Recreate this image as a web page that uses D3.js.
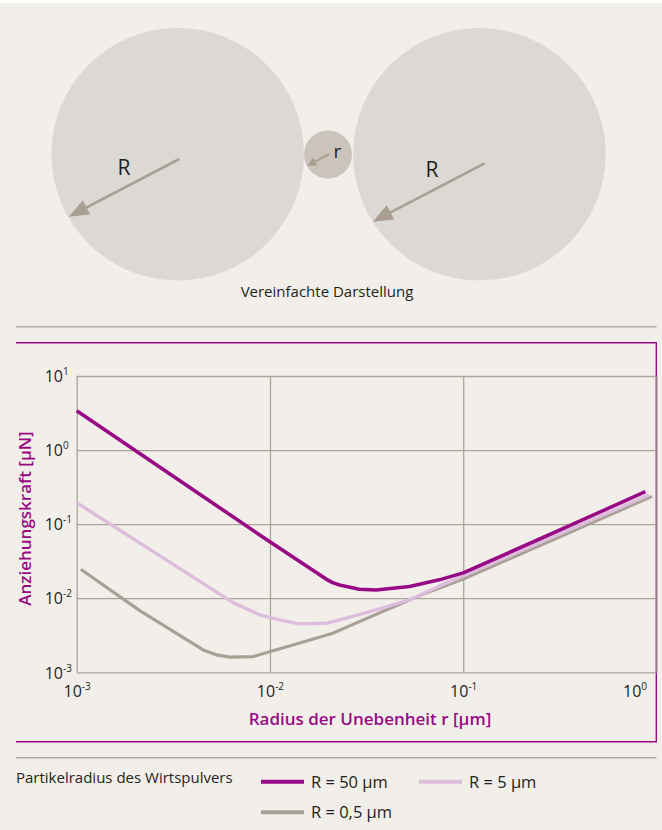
<!DOCTYPE html>
<html>
<head>
<meta charset="utf-8">
<script src="https://cdn.jsdelivr.net/npm/d3@7"></script>
<style>
  html, body { margin: 0; padding: 0; background: #f2efeb; }
  svg { display: block; font-family: "Open Sans", sans-serif; }
</style>
</head>
<body>
<svg id="chart" width="662" height="830"></svg>
<script>
// ---- data: attraction force [µN] vs. asperity radius r [µm] ----
const seriesNames = ["R = 50 µm", "R = 5 µm", "R = 0,5 µm"];

const r50 = [0.001, 0.00885, 0.0196, 0.0211, 0.0229, 0.029, 0.0354, 0.0527, 0.0752, 0.1, 0.247, 0.367, 0.876];
const f50 = [3.40, 0.0715, 0.0180, 0.01626, 0.0151, 0.0132, 0.0129, 0.0144, 0.0177, 0.0220, 0.0625, 0.099, 0.275];

const r5 = [0.001, 0.00644, 0.00885, 0.01122, 0.01424, 0.0196, 0.0248, 0.0354, 0.0527, 0.0752, 0.1, 0.247, 0.915];
const f5 = [0.195, 0.00873, 0.00596, 0.00509, 0.0045, 0.0046, 0.00537, 0.00695, 0.00948, 0.01466, 0.0200, 0.0557, 0.248];

const r05 = [0.00105, 0.00212, 0.00451, 0.00528, 0.00619, 0.00817, 0.01036, 0.01315, 0.02113, 0.029, 0.0431, 0.0643, 0.1, 0.948];
const f05 = [0.0246, 0.00681, 0.002005, 0.00172, 0.0016, 0.00163, 0.00195, 0.00234, 0.00337, 0.00483, 0.00756, 0.0118, 0.0182, 0.237];

const xTicks = [1e-3, 1e-2, 1e-1, 1];
const xTickExp = ["-3", "-2", "-1", "0"];
const yTicks = [1e-3, 1e-2, 1e-1, 1, 10];
const yTickExp = ["-3", "-2", "-1", "0", "1"];

const xTitle = "Radius der Unebenheit r [µm]";
const yTitle = "Anziehungskraft [µN]";
const legendTitle = "Partikelradius des Wirtspulvers";
const sketchCaption = "Vereinfachte Darstellung";

// ---- styles ----
const MAGENTA = "#980a85";
const PINK = "#ddbddc";
const TAUPE = "#a9a095";
const GRID = "#aba398";
const TEXT = "#231f20";
const seriesColors = [MAGENTA, PINK, TAUPE];

const svg = d3.select("#chart");

svg.append("rect").attr("width", 662).attr("height", 830).attr("fill", "#f2efeb");
svg.append("rect").attr("width", 662).attr("height", 3).attr("fill", "#ffffff");

// ---- sketch: two host particles with a small asperity between them ----
const sketch = svg.append("g");
sketch.append("circle").attr("cx", 177.7).attr("cy", 154.2).attr("r", 126.3).attr("fill", "#dcd9d4");
sketch.append("circle").attr("cx", 479.4).attr("cy", 154.2).attr("r", 126.3).attr("fill", "#dcd9d4");
sketch.append("circle").attr("cx", 328).attr("cy", 154.5).attr("r", 24).attr("fill", "#cbc4ba");

function arrow(g, x1, y1, x2, y2, width, headLen, headHalf) {
  const dx = x2 - x1, dy = y2 - y1, len = Math.hypot(dx, dy);
  const ux = dx / len, uy = dy / len;
  const bx = x2 - ux * headLen, by = y2 - uy * headLen;
  g.append("line").attr("x1", x1).attr("y1", y1).attr("x2", bx + ux * 2).attr("y2", by + uy * 2)
    .attr("stroke", "#a89e92").attr("stroke-width", width);
  g.append("polygon")
    .attr("points", [[x2, y2], [bx - uy * headHalf, by + ux * headHalf], [bx + uy * headHalf, by - ux * headHalf]].map(p => p.join(",")).join(" "))
    .attr("fill", "#a89e92");
}
arrow(sketch, 179.4, 159, 68.8, 216.7, 2.6, 20, 8);
arrow(sketch, 484.6, 163.3, 372.7, 221.7, 2.6, 20, 8);
arrow(sketch, 329.3, 154, 307.3, 165.7, 2, 9, 4.5);

sketch.append("text").attr("x", 124).attr("y", 175).attr("text-anchor", "middle")
  .attr("font-size", 21).attr("fill", TEXT).text("R");
sketch.append("text").attr("x", 432).attr("y", 177).attr("text-anchor", "middle")
  .attr("font-size", 21).attr("fill", TEXT).text("R");
sketch.append("text").attr("x", 337.5).attr("y", 157.5).attr("text-anchor", "middle")
  .attr("font-size", 19).attr("fill", TEXT).text("r");
sketch.append("text").attr("x", 327).attr("y", 297).attr("text-anchor", "middle")
  .attr("font-size", 15).attr("fill", TEXT).text(sketchCaption);

// ---- separators and the chart frame (top, right, bottom) ----
svg.append("line").attr("x1", 16).attr("x2", 656.5).attr("y1", 326.7).attr("y2", 326.7)
  .attr("stroke", "#b3aba1").attr("stroke-width", 1.5);
svg.append("line").attr("x1", 16).attr("x2", 656.5).attr("y1", 757.7).attr("y2", 757.7)
  .attr("stroke", "#b3aba1").attr("stroke-width", 1.5);
svg.append("path").attr("d", "M16,342.7 H656.3 V741.7 H16")
  .attr("fill", "none").attr("stroke", MAGENTA).attr("stroke-width", 1.4);

// ---- scales ----
const x = d3.scaleLog().domain([1e-3, 1]).range([76.7, 656.5]);
const y = d3.scaleLog().domain([1e-3, 10]).range([672.3, 376]);
const plotW = x.range()[1] - x.range()[0];
const plotH = y.range()[0] - y.range()[1];

// ---- grid / axes ----
function supLabel(sel, exps) {
  sel.each(function (d, i) {
    const t = d3.select(this);
    t.text(null);
    t.append("tspan").text("10");
    t.append("tspan").attr("dy", -7).attr("font-size", 10).text(exps[i]);
  });
}

const gx = svg.append("g").attr("transform", `translate(0,${y.range()[0]})`)
  .call(d3.axisBottom(x).tickValues(xTicks).tickSize(-plotH).tickPadding(0).tickFormat(() => ""));
gx.select(".domain").remove();
gx.selectAll(".tick line").attr("stroke", GRID).attr("stroke-width", 1.3);
gx.selectAll(".tick text")
  .attr("y", 25).attr("dy", 0).attr("fill", TEXT).attr("font-size", 16)
  .attr("font-family", "'Open Sans', sans-serif")
  .attr("text-anchor", (d, i) => i === xTicks.length - 1 ? "end" : "middle")
  .attr("x", (d, i) => i === xTicks.length - 1 ? -10 : 0)
  .call(supLabel, xTickExp);

const gy = svg.append("g").attr("transform", `translate(${x.range()[0]},0)`)
  .call(d3.axisLeft(y).tickValues(yTicks).tickSize(-plotW).tickFormat(() => ""));
gy.select(".domain").remove();
gy.selectAll(".tick line").attr("stroke", GRID).attr("stroke-width", 1.3);
gy.selectAll(".tick text")
  .attr("x", -32).attr("dy", 5.7).attr("text-anchor", "start").attr("fill", TEXT).attr("font-size", 16)
  .attr("font-family", "'Open Sans', sans-serif")
  .call(supLabel, yTickExp);

// ---- curves ----
const line = d3.line().x(d => x(d[0])).y(d => y(d[1])).curve(d3.curveLinear);
const series = [
  { name: seriesNames[2], r: r05, f: f05, color: TAUPE, w: 3.2 },
  { name: seriesNames[1], r: r5, f: f5, color: PINK, w: 3.4 },
  { name: seriesNames[0], r: r50, f: f50, color: MAGENTA, w: 3.6 }
];
series.forEach(s => {
  svg.append("path").datum(d3.zip(s.r, s.f)).attr("d", line)
    .attr("fill", "none").attr("stroke", s.color).attr("stroke-width", s.w)
    .attr("stroke-linejoin", "round");
});

// ---- axis titles ----
svg.append("text").attr("x", 370).attr("y", 725).attr("text-anchor", "middle")
  .attr("font-size", 17).attr("font-weight", 600).attr("fill", MAGENTA).text(xTitle);
svg.append("text").attr("transform", "translate(31,518.5) rotate(-90)").attr("text-anchor", "middle")
  .attr("font-size", 17).attr("font-weight", 600).attr("fill", MAGENTA).text(yTitle);

// ---- legend ----
svg.append("text").attr("x", 16).attr("y", 783).attr("font-size", 15).attr("fill", TEXT).text(legendTitle);
const legendPos = [[261, 781.7], [419, 781.7], [261, 812.3]];
seriesNames.forEach((n, i) => {
  const [lx, ly] = legendPos[i];
  svg.append("line").attr("x1", lx).attr("x2", lx + 43).attr("y1", ly).attr("y2", ly)
    .attr("stroke", seriesColors[i]).attr("stroke-width", 4);
  svg.append("text").attr("x", lx + 50).attr("y", ly + 6).attr("font-size", 16.5)
    .attr("fill", TEXT).text(n);
});
</script>
</body>
</html>
